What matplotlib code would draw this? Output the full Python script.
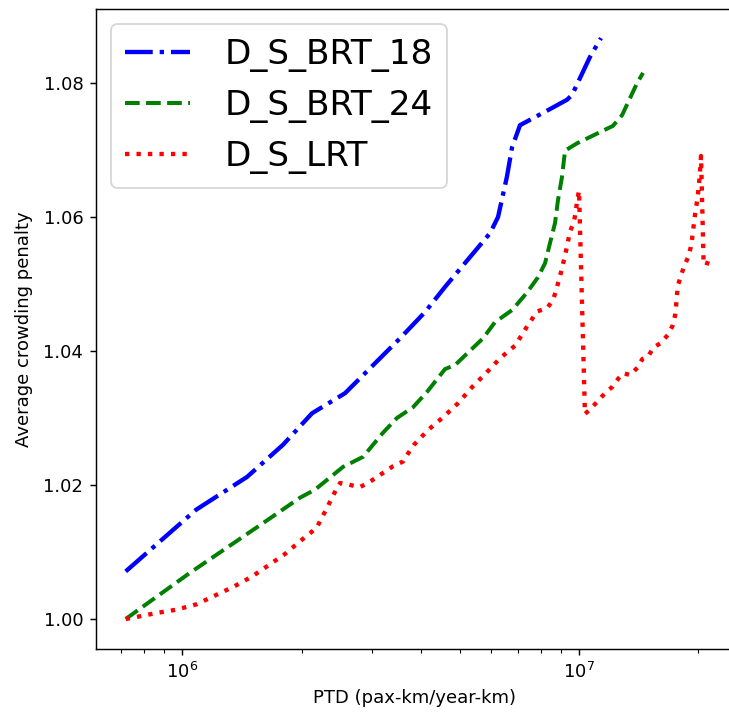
import matplotlib
matplotlib.use("Agg")
import matplotlib.pyplot as plt

# PTD (x) and average crowding penalty (y) for each scenario
x_brt18 = [7.2e5, 1.083e6, 1.456e6, 1.794e6, 2.123e6, 2.572e6, 3.54e6, 4.09e6, 4.60e6,
           5.97e6, 6.25e6, 6.58e6, 6.78e6, 7.10e6, 8.21e6, 9.33e6, 9.60e6, 1.066e7, 1.136e7]
y_brt18 = [1.0071, 1.0163, 1.0212, 1.0260, 1.0307, 1.0337, 1.0419, 1.0458, 1.0496,
           1.0576, 1.0600, 1.0660, 1.0704, 1.0737, 1.0757, 1.0775, 1.0782, 1.0839, 1.0867]

x_brt24 = [7.2e5, 1.046e6, 1.597e6, 1.980e6, 2.160e6, 2.542e6, 2.855e6, 3.206e6, 3.477e6,
           3.815e6, 4.14e6, 4.595e6, 4.87e6, 5.73e6, 6.14e6, 6.78e6, 7.39e6, 7.88e6, 8.21e6,
           8.45e6, 8.70e6, 8.85e6, 9.06e6, 9.22e6, 9.89e6, 1.218e7, 1.284e7, 1.401e7, 1.450e7]
y_brt24 = [1.0000, 1.0069, 1.0143, 1.0181, 1.0193, 1.0227, 1.0242, 1.0278, 1.0300,
           1.0316, 1.0339, 1.0373, 1.0379, 1.0419, 1.0443, 1.0461, 1.0487, 1.0510, 1.0531,
           1.0561, 1.0591, 1.0625, 1.0660, 1.0699, 1.0710, 1.0736, 1.0752, 1.0800, 1.0815]

x_lrt = [7.2e5, 7.67e5, 8.62e5, 9.68e5, 1.087e6, 1.209e6, 1.345e6, 1.496e6, 1.648e6, 1.815e6,
         1.980e6, 2.099e6, 2.186e6, 2.237e6, 2.303e6, 2.357e6, 2.427e6, 2.498e6, 2.647e6, 2.805e6,
         2.939e6, 3.097e6, 3.398e6, 3.601e6, 3.707e6, 3.837e6, 4.163e6, 4.540e6, 4.955e6, 5.374e6,
         5.83e6, 6.32e6, 6.90e6, 7.35e6, 7.84e6, 8.31e6, 8.60e6, 8.75e6, 9.04e6, 9.27e6,
         9.49e6, 9.71e6, 9.83e6, 9.88e6, 1.0e7, 1.035e7, 1.072e7, 1.118e7, 1.163e7, 1.216e7,
         1.257e7, 1.293e7, 1.345e7, 1.403e7, 1.444e7, 1.495e7, 1.539e7, 1.609e7, 1.674e7, 1.719e7,
         1.746e7, 1.756e7, 1.774e7, 1.805e7, 1.840e7, 1.883e7, 1.913e7, 1.930e7, 1.957e7, 1.991e7,
         2.015e7, 2.030e7, 2.06e7, 2.118e7, 2.069e7]
y_lrt = [1.0000, 1.0003, 1.0009, 1.0014, 1.0022, 1.0035, 1.0048, 1.0063, 1.0080, 1.0097,
         1.0116, 1.0128, 1.0137, 1.0149, 1.0163, 1.0175, 1.0190, 1.0203, 1.0200, 1.0197,
         1.0203, 1.0212, 1.0228, 1.0235, 1.0247, 1.0260, 1.0282, 1.0301, 1.0322, 1.0346,
         1.0367, 1.0389, 1.0408, 1.0434, 1.0459, 1.0464, 1.0476, 1.0490, 1.0521, 1.0549,
         1.0578, 1.0593, 1.0610, 1.0623, 1.0639, 1.0306, 1.0314, 1.0326, 1.0337, 1.0347,
         1.0359, 1.0367, 1.0364, 1.0375, 1.0388, 1.0392, 1.0405, 1.0412, 1.0424, 1.0437,
         1.0453, 1.0467, 1.0497, 1.0512, 1.0526, 1.0540, 1.0555, 1.0570, 1.0600, 1.0630,
         1.0661, 1.0691, 1.0535, 1.0536, 1.0518]

dpi = 130
fig = plt.figure(figsize=(729 / dpi, 715 / dpi), dpi=dpi)
ax = fig.add_axes([96 / 729, 66 / 715, 636 / 729, 640 / 715])

ax.plot(x_brt18, y_brt18, color='blue', linestyle='-.', linewidth=2.4, label='D_S_BRT_18')
ax.plot(x_brt24, y_brt24, color='green', linestyle='--', linewidth=2.2, label='D_S_BRT_24')
ax.plot(x_lrt, y_lrt, color='red', linestyle=':', linewidth=2.4, label='D_S_LRT')

ax.set_xscale('log')
ax.set_xlim(6.06e5, 2.43e7)
ax.set_ylim(0.99552, 1.09104)

ax.set_xlabel('PTD (pax-km/year-km)')
ax.set_ylabel('Average crowding penalty', labelpad=6)
ax.legend(loc='upper left', fontsize=19, handlelength=1.9, handletextpad=1.0,
          borderaxespad=0.45)

fig.savefig('out.png', dpi=dpi)
